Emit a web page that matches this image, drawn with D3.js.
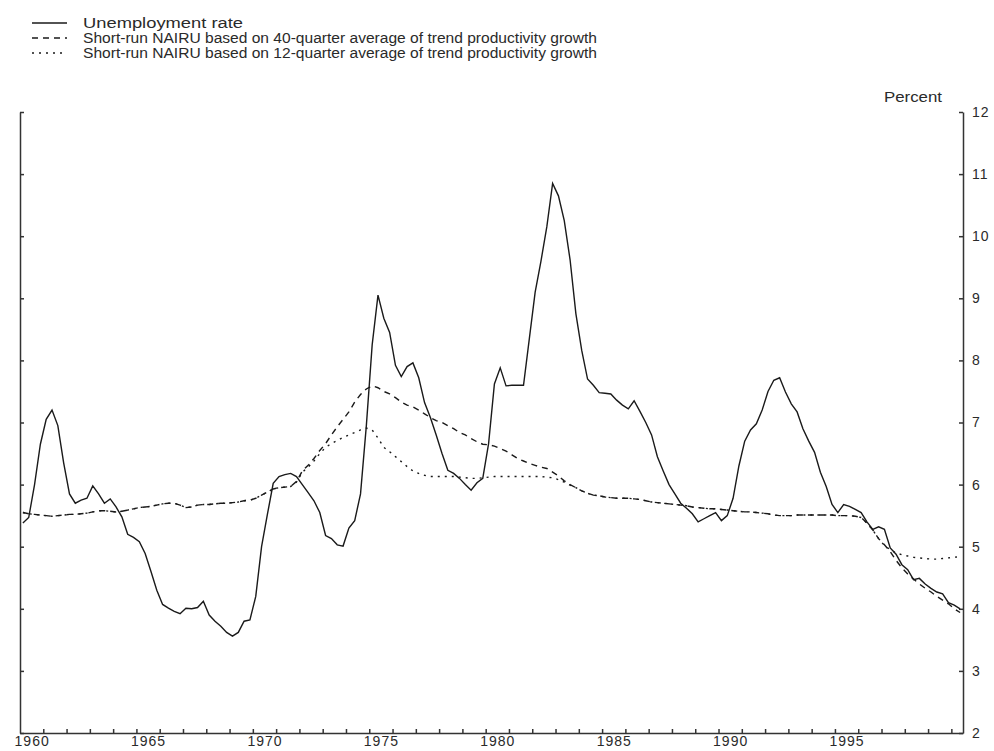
<!DOCTYPE html>
<html lang="en">
<head>
    <meta charset="UTF-8">
    <title>Unemployment rate and short-run NAIRU</title>
    <script src="https://d3js.org/d3.v7.min.js"></script>
    <style>
        body {
            margin: 0;
            background: white;
            font-family: "Liberation Sans", Arial, sans-serif;
        }

        .axis path,
        .axis line {
            stroke: #333;
            stroke-width: 1.5;
        }

        .axis text {
            fill: #2a2a2a;
            font-family: "Liberation Sans", Arial, sans-serif;
            font-size: 14px;
            letter-spacing: 1px;
        }

        .series {
            fill: none;
            stroke: #1a1a1a;
            stroke-width: 1.4;
        }
    </style>
</head>
<body>
    <div id="chart"></div>

    <script>
        // Quarterly data, 1960Q1 - 2000Q2
        const startYear = 1960;

        const unemployment = [
            5.38, 5.47, 6.00, 6.65,   // 1960
            7.05, 7.20, 6.95, 6.35,
            5.85, 5.70, 5.75, 5.78,
            5.98, 5.85, 5.70, 5.77,
            5.64, 5.48, 5.20, 5.15,
            5.08, 4.89, 4.60, 4.30,   // 1965
            4.07, 4.01, 3.96, 3.92,
            4.01, 4.00, 4.02, 4.12,
            3.90, 3.80, 3.72, 3.62,
            3.56, 3.62, 3.80, 3.82,
            4.20, 5.00, 5.52, 6.02,   // 1970
            6.13, 6.16, 6.18, 6.13,
            6.00, 5.87, 5.74, 5.55,
            5.18, 5.13, 5.03, 5.01,
            5.30, 5.42, 5.85, 6.95,
            8.25, 9.05, 8.68, 8.45,   // 1975
            7.92, 7.74, 7.90, 7.96,
            7.72, 7.32, 7.08, 6.80,
            6.50, 6.23, 6.18, 6.10,
            6.00, 5.91, 6.03, 6.10,
            6.66, 7.62, 7.88, 7.59,   // 1980
            7.60, 7.60, 7.60, 8.35,
            9.10, 9.60, 10.15, 10.85,
            10.65, 10.25, 9.62, 8.75,
            8.16, 7.70, 7.60, 7.48,
            7.47, 7.46, 7.36, 7.28,   // 1985
            7.22, 7.35, 7.18, 7.00,
            6.80, 6.45, 6.22, 6.00,
            5.85, 5.70, 5.62, 5.53,
            5.40, 5.45, 5.50, 5.55,
            5.42, 5.50, 5.78, 6.30,   // 1990
            6.70, 6.88, 6.98, 7.20,
            7.50, 7.68, 7.72, 7.49,
            7.30, 7.17, 6.90, 6.70,
            6.52, 6.20, 5.97, 5.68,
            5.55, 5.68, 5.65, 5.60,   // 1995
            5.55, 5.40, 5.28, 5.32,
            5.28, 4.98, 4.88, 4.71,
            4.63, 4.47, 4.49, 4.40,
            4.33, 4.27, 4.24, 4.10,
            4.06, 4.00                // 2000
        ];

        const nairu40 = [
            5.55, 5.53, 5.52, 5.51,   // 1960
            5.50, 5.49, 5.50, 5.51,
            5.52, 5.52, 5.53, 5.54,
            5.56, 5.58, 5.58, 5.57,
            5.56, 5.57, 5.59, 5.61,
            5.63, 5.64, 5.65, 5.67,   // 1965
            5.69, 5.70, 5.70, 5.67,
            5.63, 5.64, 5.67, 5.68,
            5.68, 5.69, 5.70, 5.70,
            5.71, 5.72, 5.74, 5.75,
            5.78, 5.83, 5.88, 5.93,   // 1970
            5.95, 5.96, 5.97, 6.05,
            6.22, 6.31, 6.42, 6.55,
            6.66, 6.80, 6.93, 7.05,
            7.17, 7.33, 7.45, 7.54,
            7.59, 7.56, 7.50, 7.46,   // 1975
            7.40, 7.33, 7.28, 7.25,
            7.20, 7.14, 7.08, 7.03,
            7.00, 6.95, 6.90, 6.84,
            6.80, 6.74, 6.69, 6.65,
            6.64, 6.62, 6.58, 6.54,   // 1980
            6.48, 6.42, 6.38, 6.34,
            6.31, 6.28, 6.26, 6.20,
            6.14, 6.06, 6.00, 5.95,
            5.90, 5.86, 5.83, 5.82,
            5.80, 5.79, 5.78, 5.78,   // 1985
            5.78, 5.77, 5.76, 5.74,
            5.72, 5.71, 5.70, 5.69,
            5.68, 5.67, 5.66, 5.64,
            5.63, 5.62, 5.61, 5.61,
            5.60, 5.59, 5.58, 5.57,   // 1990
            5.56, 5.56, 5.55, 5.54,
            5.53, 5.51, 5.50, 5.50,
            5.50, 5.51, 5.51, 5.51,
            5.51, 5.51, 5.51, 5.51,
            5.50, 5.50, 5.50, 5.49,   // 1995
            5.47, 5.38, 5.27, 5.13,
            5.03, 4.92, 4.78, 4.66,
            4.56, 4.48, 4.40, 4.33,
            4.27, 4.20, 4.14, 4.08,
            4.00, 3.94                // 2000
        ];

        const nairu12 = [
            5.55, 5.53, 5.52, 5.51,   // 1960
            5.50, 5.49, 5.50, 5.51,
            5.52, 5.52, 5.53, 5.54,
            5.56, 5.58, 5.58, 5.57,
            5.56, 5.57, 5.59, 5.61,
            5.63, 5.64, 5.65, 5.67,   // 1965
            5.69, 5.70, 5.70, 5.67,
            5.63, 5.64, 5.67, 5.68,
            5.68, 5.69, 5.70, 5.70,
            5.71, 5.72, 5.74, 5.75,
            5.78, 5.83, 5.88, 5.93,   // 1970
            5.95, 5.96, 5.97, 6.04,
            6.20, 6.28, 6.38, 6.50,
            6.60, 6.66, 6.71, 6.76,
            6.80, 6.84, 6.88, 6.91,
            6.88, 6.75, 6.60, 6.53,   // 1975
            6.45, 6.37, 6.29, 6.22,
            6.18, 6.15, 6.13, 6.13,
            6.13, 6.13, 6.13, 6.12,
            6.11, 6.10, 6.10, 6.11,
            6.12, 6.13, 6.13, 6.13,   // 1980
            6.13, 6.13, 6.13, 6.13,
            6.13, 6.13, 6.12, 6.11,
            6.08, 6.04, 5.99, 5.95,
            5.90, 5.86, 5.83, 5.82,
            5.80, 5.79, 5.78, 5.78,   // 1985
            5.78, 5.77, 5.76, 5.74,
            5.72, 5.71, 5.70, 5.69,
            5.68, 5.67, 5.66, 5.64,
            5.63, 5.62, 5.61, 5.61,
            5.60, 5.59, 5.58, 5.57,   // 1990
            5.56, 5.56, 5.55, 5.54,
            5.53, 5.51, 5.50, 5.50,
            5.50, 5.51, 5.51, 5.51,
            5.51, 5.51, 5.51, 5.51,
            5.50, 5.50, 5.50, 5.49,   // 1995
            5.47, 5.38, 5.27, 5.13,
            5.02, 4.95, 4.90, 4.87,
            4.85, 4.83, 4.82, 4.81,
            4.80, 4.80, 4.81, 4.82,
            4.83, 4.84                // 2000
        ];

        const yTickValues = [2, 3, 4, 5, 6, 7, 8, 9, 10, 11, 12];
        const xLabelYears = [1960, 1965, 1970, 1975, 1980, 1985, 1990, 1995];

        const legendItems = [
            { label: 'Unemployment rate', data: unemployment, dash: null, len: 160 },
            { label: 'Short-run NAIRU based on 40-quarter average of trend productivity growth', data: nairu40, dash: '6,5', len: 514 },
            { label: 'Short-run NAIRU based on 12-quarter average of trend productivity growth', data: nairu12, dash: '2,5', len: 514 }
        ];

        const width = 994;
        const height = 751;

        const svg = d3.select('#chart')
            .append('svg')
            .attr('width', width)
            .attr('height', height);

        const x = d3.scaleLinear().domain([1960, 2000.5]).range([20, 963]);
        const y = d3.scaleLinear().domain([2, 12]).range([733, 112]);

        // quarter midpoints
        const dateOf = i => startYear + i / 4 + 0.125;

        // axes
        svg.append('g')
            .attr('class', 'axis')
            .attr('transform', 'translate(0,733)')
            .call(d3.axisBottom(x)
                .tickValues(d3.range(1961, 2001))
                .tickSize(-4)
                .tickSizeOuter(0)
                .tickFormat(''));

        svg.append('g')
            .attr('class', 'axis')
            .attr('transform', 'translate(0,733)')
            .call(d3.axisBottom(x)
                .tickValues(xLabelYears.map(d => d + 0.5))
                .tickSize(0)
                .tickPadding(3)
                .tickFormat(d => Math.floor(d)))
            .call(g => g.select('.domain').remove())
            .call(g => g.selectAll('text').attr('dy', '0.71em'));

        svg.append('g')
            .attr('class', 'axis')
            .attr('transform', 'translate(20,0)')
            .call(d3.axisLeft(y)
                .tickValues(yTickValues)
                .tickSize(-4)
                .tickSizeOuter(0)
                .tickFormat(''));

        svg.append('g')
            .attr('class', 'axis')
            .attr('transform', 'translate(963,0)')
            .call(d3.axisRight(y)
                .tickValues(yTickValues)
                .tickSize(-4)
                .tickSizeOuter(0)
                .tickPadding(9));

        svg.append('text')
            .attr('x', 884)
            .attr('y', 102)
            .attr('fill', '#2a2a2a')
            .attr('font-size', 15)
            .attr('textLength', 58)
            .attr('lengthAdjust', 'spacingAndGlyphs')
            .text('Percent');

        // lines
        const line = d3.line()
            .x((d, i) => x(dateOf(i)))
            .y(d => y(d));

        legendItems.slice().reverse().forEach(item => {
            svg.append('path')
                .datum(item.data)
                .attr('class', 'series')
                .attr('stroke-dasharray', item.dash)
                .attr('d', line);
        });

        // legend
        const legend = svg.append('g');
        legendItems.forEach((item, i) => {
            const ly = 23 + i * 15;
            legend.append('line')
                .attr('x1', 32).attr('x2', 67)
                .attr('y1', ly).attr('y2', ly)
                .attr('stroke', '#1a1a1a')
                .attr('stroke-width', 1.3)
                .attr('stroke-dasharray', item.dash);
            legend.append('text')
                .attr('x', 83)
                .attr('y', ly + 5)
                .attr('fill', '#2a2a2a')
                .attr('font-size', 14)
                .attr('textLength', item.len)
                .attr('lengthAdjust', 'spacingAndGlyphs')
                .text(item.label);
        });
    </script>
</body>
</html>
